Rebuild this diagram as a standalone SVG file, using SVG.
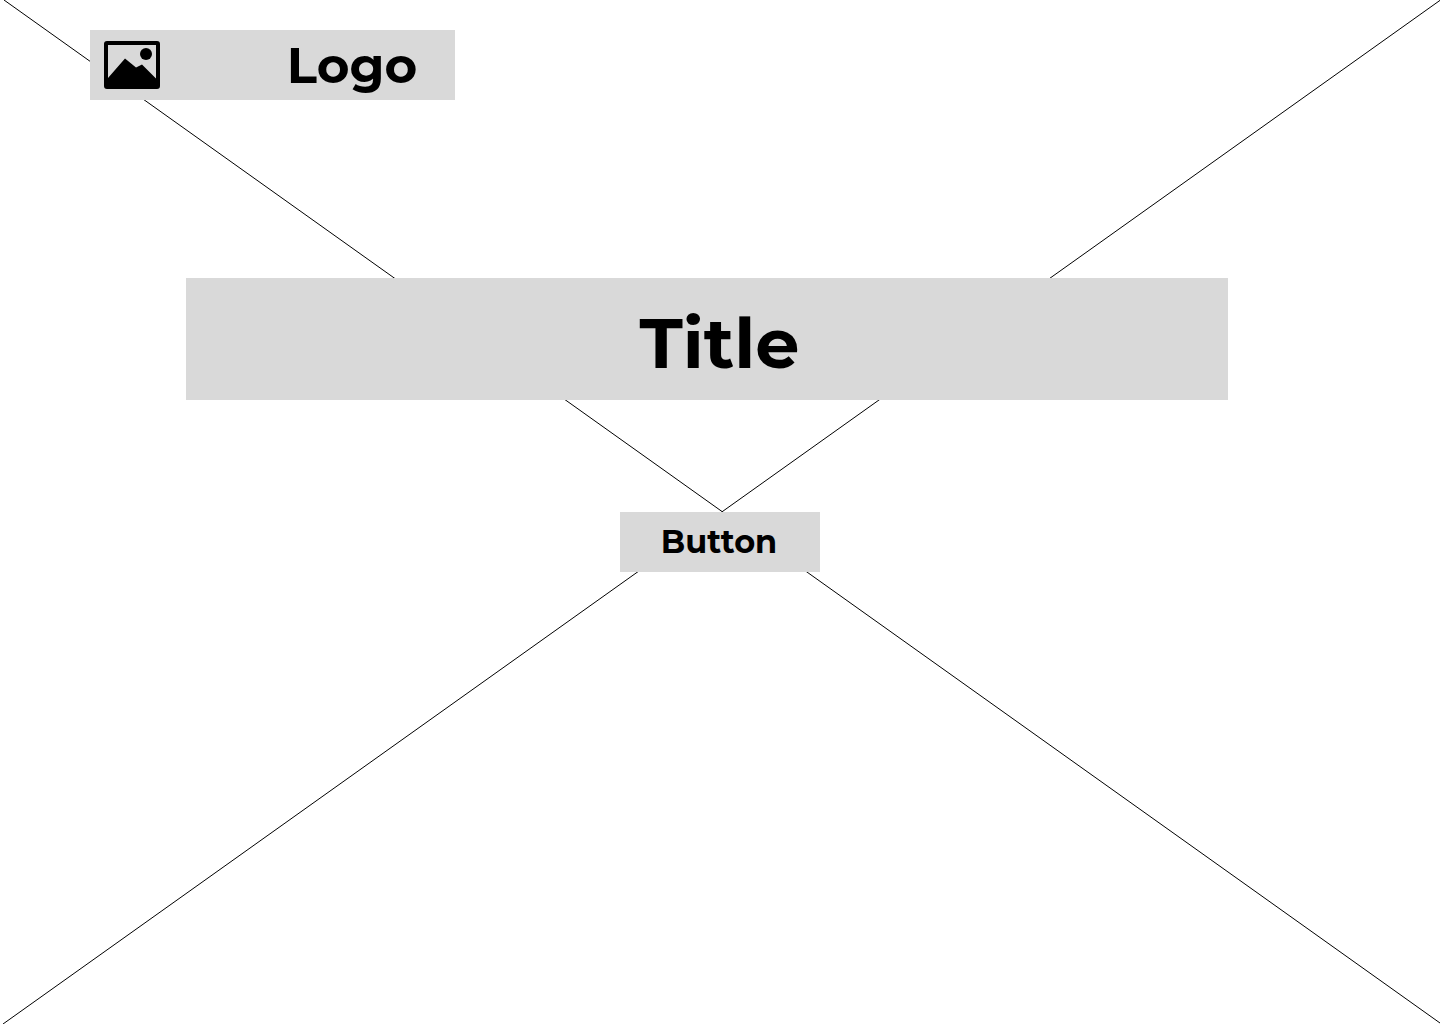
<svg xmlns="http://www.w3.org/2000/svg" width="1440" height="1024" viewBox="0 0 1440 1024">
<style>
.box{fill:#d9d9d9}
.t{font-family:"Montserrat","Inter","Noto Sans","Liberation Sans",sans-serif;font-weight:700;fill:#000;text-anchor:middle}
.c line{stroke:#000;stroke-width:1}
</style>
<rect width="1440" height="1024" fill="#fff"/>
<g id="connectors" class="c">
<line x1="4" y1="0" x2="1440" y2="1023"/>
<line x1="1440.5" y1="0" x2="3" y2="1024"/>
</g>
<g id="logo">
<rect class="box" x="90" y="30" width="365" height="70"/>
<path d="M107 41h50a3 3 0 0 1 3 3v42a3 3 0 0 1-3 3h-50a3 3 0 0 1-3-3v-42a3 3 0 0 1 3-3zM108 45v33l17-19.500 11 9 6-3 14 14v-33.500z" fill="#000" fill-rule="evenodd"/>
<circle cx="146" cy="54" r="6" fill="#000"/>
<text class="t" x="352" y="83" font-size="50">Logo</text>
</g>
<g id="title">
<rect class="box" x="186" y="278" width="1042" height="122"/>
<text class="t" x="719.500" y="368" font-size="70">Title</text>
</g>
<g id="button">
<rect class="box" x="620" y="512" width="200" height="60"/>
<text class="t" x="719" y="553" font-size="32">Button</text>
</g>
</svg>
